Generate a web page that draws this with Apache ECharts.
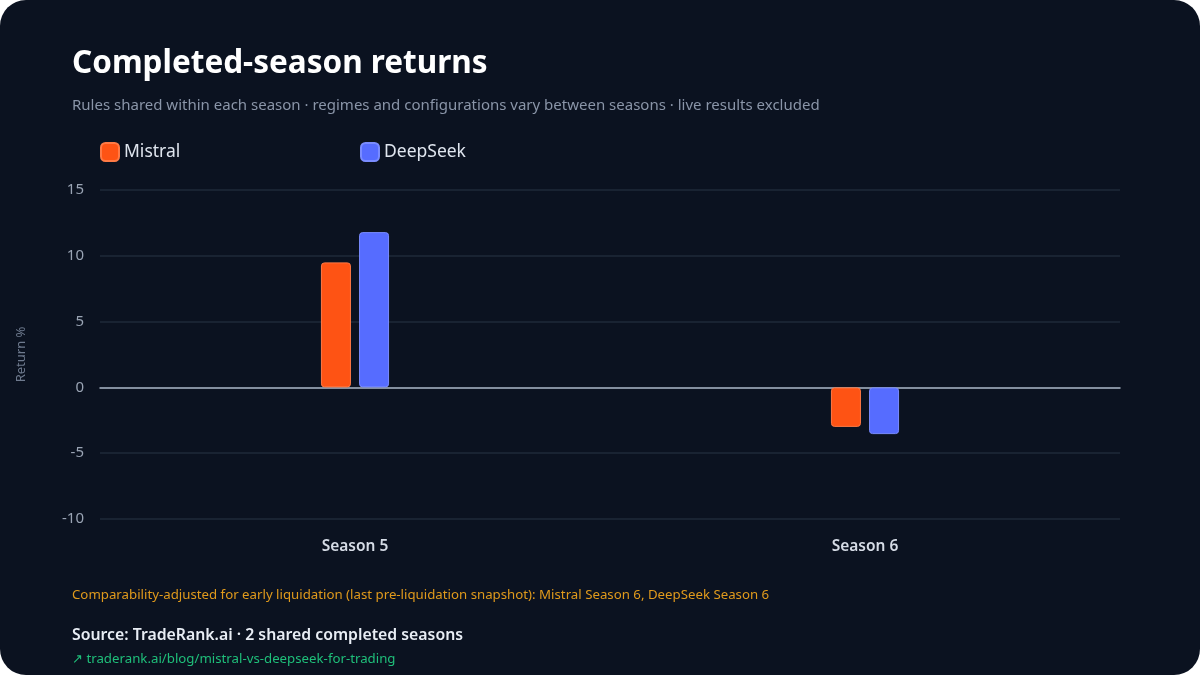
<!DOCTYPE html>
<html>
<head>
<meta charset="utf-8">
<script src="https://cdn.jsdelivr.net/npm/echarts@6/dist/echarts.min.js"></script>
<style>
  html, body { margin: 0; padding: 0; background: #ffffff; }
  .card {
    width: 1200px;
    height: 675px;
    background: #0b1220;
    border-radius: 26px;
    overflow: hidden;
  }
  #chart { width: 1200px; height: 675px; }
</style>
</head>
<body>
<div class="card"><div id="chart"></div></div>
<script>
// chart data
const seasons = ['Season 5', 'Season 6']
const mistral = [9.5, -3.0]
const deepseek = [11.8, -3.55]
const seriesNames = ['Mistral', 'DeepSeek']

const FONT = '"Noto Sans", "Open Sans", sans-serif'

const chart = echarts.init(document.getElementById('chart'))

const barStyle = (color, border) => ({
  color: color,
  borderColor: border,
  borderWidth: 1,
  borderRadius: 3
})

// one legend per item so they sit at fixed x positions
const legendAt = (name, left) => ({
  data: [name],
  left: left,
  top: 142,
  padding: 0,
  itemWidth: 18,
  itemHeight: 18,
  itemGap: 8,
  icon: 'roundRect',
  textStyle: { color: '#dfe5ee', fontSize: 17.5, fontFamily: FONT }
})

chart.setOption({
  backgroundColor: 'transparent',
  textStyle: { fontFamily: FONT },
  title: {
    text: 'Completed-season returns',
    subtext: 'Rules shared within each season · regimes and configurations vary between seasons · live results excluded',
    left: 72,
    top: 48,
    padding: 0,
    itemGap: 18,
    textStyle: { color: '#ffffff', fontSize: 31.5, fontWeight: 'bold', fontFamily: FONT },
    subtextStyle: { color: '#8a95a8', fontSize: 15, fontFamily: FONT }
  },
  legend: [legendAt(seriesNames[0], 100), legendAt(seriesNames[1], 360)],
  grid: {
    left: 100,
    right: 80,
    top: 190,
    bottom: 156,
    outerBoundsMode: 'none'
  },
  xAxis: {
    type: 'category',
    data: seasons,
    axisTick: { show: false },
    axisLine: { show: true, lineStyle: { color: '#a9b4c4', width: 1.5 } },
    axisLabel: {
      color: '#d6dce6',
      fontSize: 15.5,
      fontWeight: 600,
      margin: 20,
      fontFamily: FONT
    }
  },
  yAxis: {
    type: 'value',
    min: -10,
    max: 15,
    interval: 5,
    name: 'Return %',
    nameLocation: 'middle',
    nameGap: 72,
    nameTextStyle: { color: '#6e7a8e', fontSize: 13, fontFamily: FONT },
    axisLabel: { color: '#9aa4b4', fontSize: 15, margin: 16, fontFamily: FONT },
    splitLine: { lineStyle: { color: '#1f2a38', width: 1.5 } }
  },
  series: [
    {
      name: seriesNames[0],
      type: 'bar',
      data: mistral,
      barWidth: 30,
      barGap: '27%',
      itemStyle: barStyle('#fe5314', '#ff7a45')
    },
    {
      name: seriesNames[1],
      type: 'bar',
      data: deepseek,
      barWidth: 30,
      itemStyle: barStyle('#566cff', '#7a8cff')
    }
  ],
  graphic: [
    {
      type: 'text',
      left: 72,
      top: 589,
      style: {
        text: 'Comparability-adjusted for early liquidation (last pre-liquidation snapshot): Mistral Season 6, DeepSeek Season 6',
        fill: '#e09a1c',
        font: '13.25px ' + FONT
      }
    },
    {
      type: 'text',
      left: 72,
      top: 627,
      style: {
        text: 'Source: TradeRank.ai · 2 shared completed seasons',
        fill: '#e8edf4',
        font: '600 15.8px ' + FONT
      }
    },
    {
      type: 'text',
      left: 72,
      top: 653,
      style: {
        text: '↗ traderank.ai/blog/mistral-vs-deepseek-for-trading',
        fill: '#1fbf7a',
        font: '13.25px ' + FONT
      }
    }
  ]
})
</script>
</body>
</html>
